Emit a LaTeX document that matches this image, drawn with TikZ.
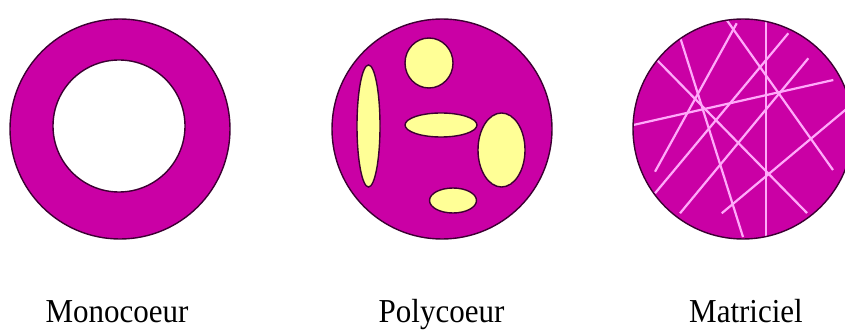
\documentclass[tikz,border=0pt]{standalone}
\usepackage{fontspec}
\setmainfont{Liberation Serif}
\definecolor{mag}{RGB}{202,0,165}
\definecolor{edge}{RGB}{60,0,50}
\definecolor{pale}{RGB}{255,255,150}
\definecolor{fibre}{RGB}{255,170,250}
\begin{document}
\begin{tikzpicture}[x=1pt,y=-1pt,
  disc/.style={fill=mag,draw=edge,line width=1.4pt},
  hole/.style={fill=white,draw=edge,line width=1.4pt},
  core/.style={fill=pale,draw=edge,line width=1.4pt},
  fib/.style={draw=fibre,line width=2.2pt},
  lab/.style={anchor=base,inner sep=0pt,yscale=1.08,font=\fontsize{31}{36}\selectfont}]
\useasboundingbox (0,0) rectangle (845,331);
% Monocoeur
\draw[disc] (120,129) circle[radius=110];
\draw[hole] (119,126) circle[radius=66];
% Polycoeur
\draw[disc] (442,129) circle[radius=110];
\draw[core] (429,63) ellipse[x radius=24,y radius=25];
\draw[core] (368.5,126) ellipse[x radius=11.5,y radius=61];
\draw[core] (441,125) ellipse[x radius=36,y radius=12];
\draw[core] (501.5,150) ellipse[x radius=23.5,y radius=37];
\draw[core] (453,200.5) ellipse[x radius=23.5,y radius=12.5];
% Matriciel
\fill[mag] (743,129) circle[radius=110];
\begin{scope}
\clip (743,129) circle[radius=110];
\draw[fib] (680,37) -- (743,237);
\draw[fib] (655,58) -- (807,213);
\draw[fib] (726.7,20) -- (833,170);
\draw[fib] (736.7,23.3) -- (655,171.7);
\draw[fib] (788.3,33.3) -- (655,193.3);
\draw[fib] (808.3,58.3) -- (680,213.3);
\draw[fib] (850,106) -- (721.7,213.3);
\draw[fib] (633.3,125) -- (833.3,80);
\draw[fib] (765.7,15) -- (765.7,245);
\end{scope}
\draw[draw=edge,line width=1.4pt] (743,129) circle[radius=110];
% labels
\node[lab] (l1) at (117,322) {Monocoeur};
\node[lab] (l2) at (441.5,322) {Polycoeur};
\node[lab] (l3) at (746,322) {Matriciel};
\end{tikzpicture}
\end{document}
